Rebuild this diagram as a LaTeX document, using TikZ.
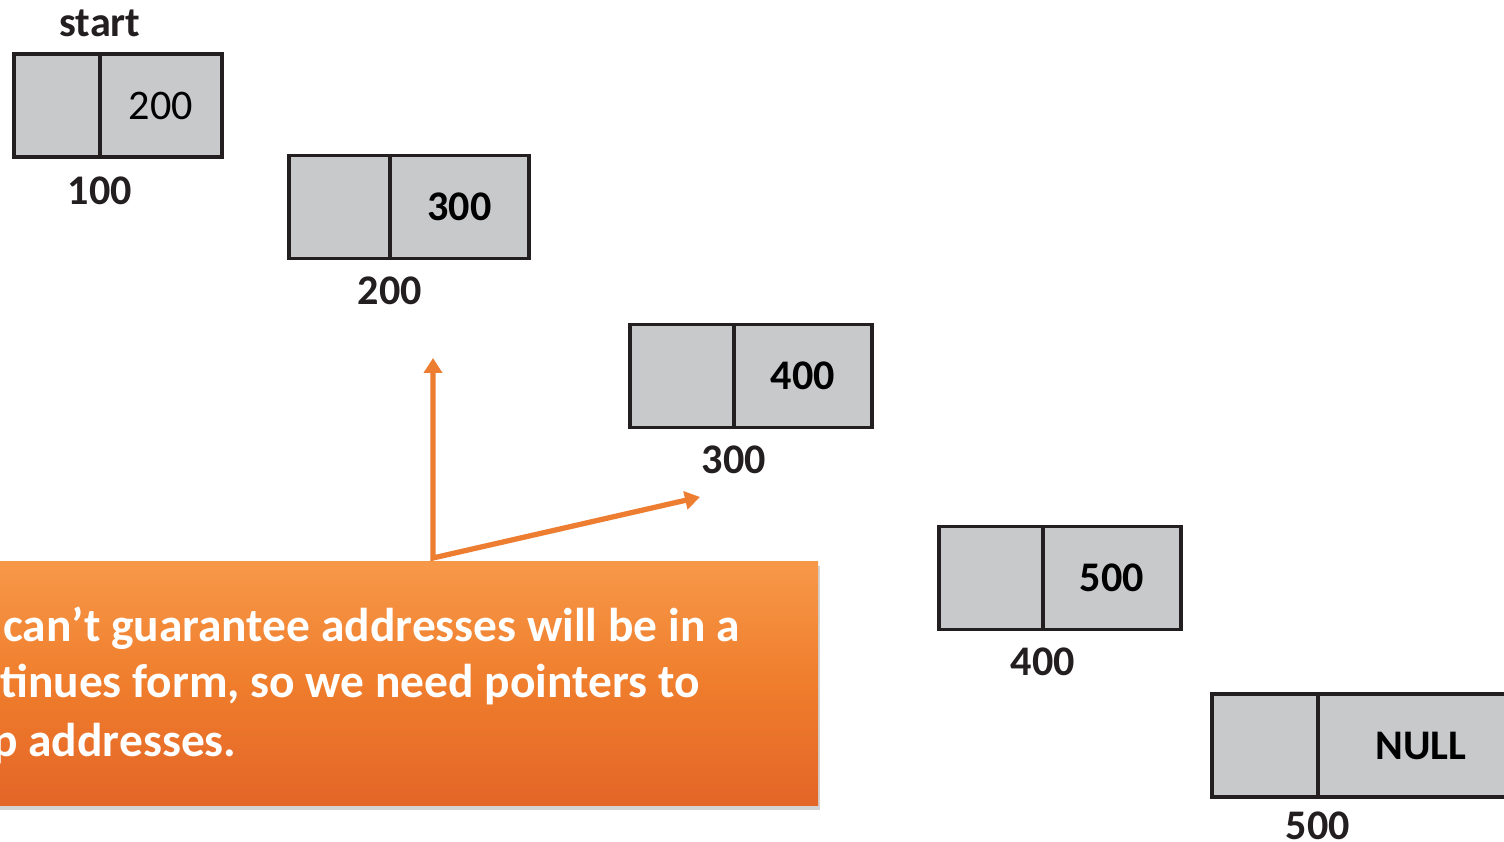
\documentclass[tikz,border=0pt]{standalone}
\usepackage{fontspec}
\setmainfont{Carlito}
\usepackage{tikz}
\usetikzlibrary{arrows.meta,positioning,shadows}
\definecolor{cellgray}{HTML}{C8C9CB}
\definecolor{cellline}{HTML}{231F20}
\definecolor{ptrorange}{HTML}{ED7D31}
\tikzset{
  cell/.style={rectangle, draw=cellline, line width=1.8pt, fill=cellgray, outer sep=0pt,
               minimum height=2.06cm, font=\fontsize{24}{28}\selectfont},
  addr/.style={inner sep=0pt, text=cellline, font=\bfseries\fontsize{24}{28}\selectfont},
  ptr/.style={{Triangle[length=3mm,width=3.6mm]}-{Triangle[length=3mm,width=3.6mm]},
              line width=3pt, draw=ptrorange, line join=miter},
  note/.style={rectangle, draw=none, top color=orange!45!ptrorange!80!white, bottom color=ptrorange!85!red!95!black,
               middle color=ptrorange!90!orange,
               drop shadow={shadow xshift=0.03cm, shadow yshift=-0.08cm, opacity=0.35}},
  msg/.style={inner sep=0pt, anchor=base west, text=white, font=\bfseries\fontsize{27}{32}\selectfont},
}

\begin{document}
\begin{tikzpicture}
    \clip (0,0) rectangle (30.08,16.84);
    % the five list nodes, data cell on the left, link on the right
    \node[cell, minimum width=1.72cm] (a) at (1.14,14.73) {};
    \node[cell, minimum width=2.44cm, right=0pt of a] (an) {200};
    \node[cell, minimum width=2.02cm] (b) at (6.79,12.70) {};
    \node[cell, minimum width=2.78cm, right=0pt of b] (bn) {\textbf{300}};
    \node[cell, minimum width=2.08cm] (c) at (13.64,9.32) {};
    \node[cell, minimum width=2.76cm, right=0pt of c] (cn) {\textbf{400}};
    \node[cell, minimum width=2.08cm] (d) at (19.82,5.28) {};
    \node[cell, minimum width=2.76cm, right=0pt of d] (dn) {\textbf{500}};
    \node[cell, minimum width=2.12cm] (e) at (25.30,1.93) {};
    \node[cell, minimum width=4.12cm, right=0pt of e] (en) {\textbf{NULL}};
    % addresses
    \node[addr, above=0.34cm of a.north east] (s) {start};
    \node[addr, below=0.40cm of a.south east] (la) {100};
    \node[addr, below=0.36cm of b.south east] (lb) {200};
    \node[addr, below=0.36cm of c.south east] (lc) {300};
    \node[addr, below=0.36cm of d.south east] (ld) {400};
    \node[addr, below=0.28cm of e.south east] (le) {500};
    % callout
    \node[note, minimum width=16.86cm, minimum height=4.88cm] (box) at (7.93,3.16) {};
    \node[msg] (m1) at (0.06,4.00) {can’t guarantee addresses will be in a};
    \node[msg] (m2) at (0.00,2.88) {tinues form, so we need pointers to};
    \node[msg] (m3) at (-0.16,1.70) {p addresses.};
    \coordinate (o) at (8.66,5.68);
    \coordinate (up) at (8.66,9.68);
    \coordinate (rt) at (14.00,6.90);
    \draw[ptr] (up) -- (o) -- (rt);
  \end{tikzpicture}
\end{document}
